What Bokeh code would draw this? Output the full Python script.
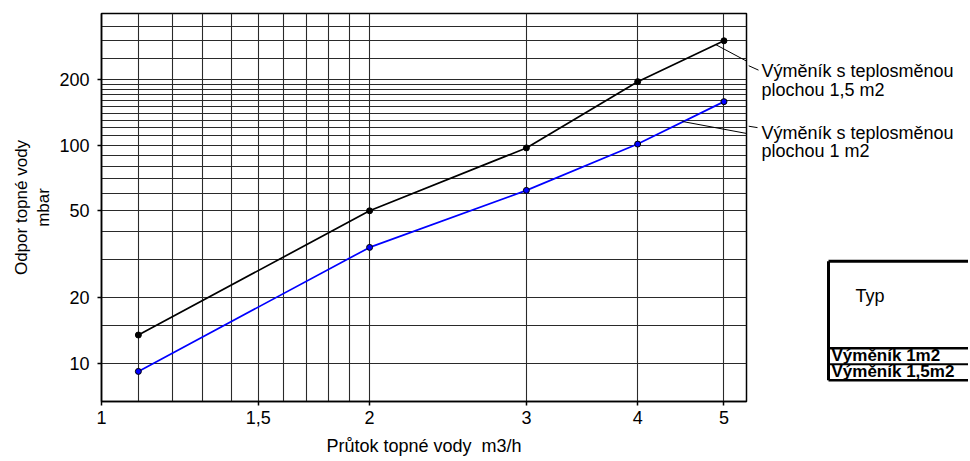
import numpy as np
from bokeh.plotting import figure
from bokeh.models import Range1d, FixedTicker, CustomJSTickFormatter
from bokeh.layouts import row
from bokeh.embed import file_html
from bokeh.resources import INLINE
from bokeh.core.properties import value

# ---------------- data ----------------
flow = [1.1, 2, 3, 4, 5]                      # Průtok topné vody m3/h
drop_15 = [13.5, 50, 97, 195, 300]            # Výměník 1,5 m2 (mbar)
drop_10 = [9.2, 34, 62, 101, 158]             # Výměník 1 m2 (mbar)

x_ticks = [1, 1.5, 2, 3, 4, 5]
y_ticks = [10, 20, 50, 100, 200]
x_grid = [1.1, 1.2, 1.3, 1.4, 1.5, 1.6, 1.7, 1.8, 1.9, 2, 3, 4, 5]
y_grid = [10, 15, 20, 30, 40, 50, 60, 70, 80, 90, 100, 110, 120, 130, 140,
          150, 160, 170, 180, 190, 200, 250, 300, 350]

label_15 = ["Výměník s teplosměnou", "plochou 1,5 m2"]
label_10 = ["Výměník s teplosměnou", "plochou 1 m2"]
table_head = "Typ"
table_rows = ["Výměník 1m2", "Výměník 1,5m2"]

x_lo, x_hi = 1.0, 5.3
y_lo, y_hi = 6.7, 400

FONT = "Liberation Sans"

# ---------------- layout (page pixels) ----------------
PAGE = 0
BL, FW, BR, BT, FH = 101, 645, 2, 13, 388
MAIN_W = BL + FW + BR
TOTAL_W = 968
H = 459
FL = PAGE + BL
FT = PAGE + BT


def px_to_x(px):
    return 10 ** (np.log10(x_lo) + (px - FL) / FW * np.log10(x_hi / x_lo))


def px_to_y(py):
    return 10 ** (np.log10(y_lo) + (FT + FH - py) / FH * np.log10(y_hi / y_lo))


p = figure(width=MAIN_W, height=H, x_axis_type="log", y_axis_type="log",
           x_range=Range1d(x_lo, x_hi), y_range=Range1d(y_lo, y_hi),
           toolbar_location=None, output_backend="svg",
           min_border_left=BL, min_border_right=BR, min_border_top=BT,
           min_border_bottom=H - BT - FH)
p.outline_line_color = "black"
p.outline_line_width = 1.5

p.xaxis.ticker = FixedTicker(ticks=x_ticks)
p.yaxis.ticker = FixedTicker(ticks=y_ticks)
p.xgrid.ticker = FixedTicker(ticks=x_grid)
p.ygrid.ticker = FixedTicker(ticks=y_grid)
p.grid.grid_line_color = "#2a2a2a"
p.grid.grid_line_width = 1.1
p.grid.grid_line_alpha = 1.0

p.xaxis.formatter = CustomJSTickFormatter(code="return String(tick).replace('.', ',');")
p.yaxis.formatter = CustomJSTickFormatter(code="return String(tick);")

for ax in p.axis:
    ax.axis_line_color = "black"
    ax.axis_line_width = 1.5
    ax.major_tick_in = 0
    ax.major_tick_out = 4
    ax.major_tick_line_color = "black"
    ax.major_tick_line_width = 1.5
    ax.minor_tick_line_color = None
    ax.major_label_text_font = FONT
    ax.major_label_text_font_size = "18px"
    ax.major_label_text_color = "black"
    ax.axis_label_text_font = FONT
    ax.axis_label_text_font_style = "normal"
    ax.axis_label_text_color = "black"

p.xaxis.major_label_standoff = 5
p.yaxis.major_label_standoff = 8
p.xaxis.axis_label = "Průtok topné vody\u00a0 m3/h"
p.xaxis.axis_label_text_font_size = "18px"
p.xaxis.axis_label_standoff = 9
p.yaxis.axis_label = "Odpor topné vody\nmbar"
p.yaxis.axis_label_text_font_size = "17px"
p.yaxis.axis_label_standoff = 3

p.line(flow, drop_15, line_color="black", line_width=1.7)
p.scatter(flow, drop_15, size=6, fill_color="black", line_color="black")
p.line(flow, drop_10, line_color="#0000ff", line_width=1.7)
p.scatter(flow, drop_10, size=6, fill_color="#0000ff", line_color="black")

# leader lines (page pixel geometry, split across the two panels)
leaders = [((715, 44), (758, 67)), ((682, 121), (757, 135))]
EDGE_MAIN = FL + FW
EDGE_SIDE = PAGE + MAIN_W


def y_at(seg, px):
    (xa, ya), (xb, yb) = seg
    return ya + (yb - ya) * (px - xa) / (xb - xa)


for seg in leaders:
    (xa, ya), _ = seg
    p.line([px_to_x(xa), px_to_x(EDGE_MAIN)],
           [px_to_y(ya), px_to_y(y_at(seg, EDGE_MAIN))],
           line_color="black", line_width=1)

# ---------------- right panel ----------------
SIDE_W = TOTAL_W - MAIN_W
q = figure(width=SIDE_W, height=H, x_range=Range1d(EDGE_SIDE, EDGE_SIDE + SIDE_W),
           y_range=Range1d(PAGE + H, PAGE), toolbar_location=None,
           output_backend="svg", x_axis_location=None, y_axis_location=None,
           min_border=0, outline_line_color=None)
q.grid.visible = False

for seg in leaders:
    _, (xb, yb) = seg
    q.line([EDGE_SIDE, xb], [y_at(seg, EDGE_SIDE), yb], line_color="black", line_width=1)

q.text(x=[761, 761, 761, 761], y=[68, 90, 141, 163],
       text=label_15 + label_10, text_font=value(FONT), text_font_size="18px",
       text_baseline="middle", text_align="left", text_color="black")

# table
TL, TR = 828, 980
q.segment(x0=[TL, TL, TL, TL, TL], y0=[293, 293, 396, 415, 434],
          x1=[TL, TR, TR, TR, TR], y1=[434, 293, 396, 415, 434],
          line_color="black", line_width=[3, 3, 2.5, 2, 2.5])
q.text(x=[855], y=[334], text=[table_head], text_font=value(FONT),
       text_font_size="18px", text_baseline="middle", text_align="left",
       text_color="black")
q.text(x=[831, 831], y=[404.5, 423.5], text=table_rows, text_font=value(FONT),
       text_font_size="17px", text_font_style="bold", text_baseline="middle",
       text_align="left", text_color="black")

layout = row(p, q)
open("out.html", "w").write(file_html(layout, INLINE))
